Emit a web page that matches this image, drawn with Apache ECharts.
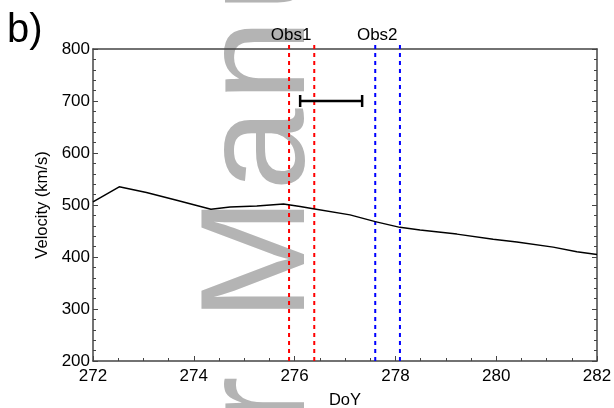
<!DOCTYPE html>
<html>
<head>
<meta charset="utf-8">
<script src="https://cdn.jsdelivr.net/npm/echarts@6/dist/echarts.min.js"></script>
<style>
  html, body { margin: 0; padding: 0; background: #ffffff; }
  #chart { width: 614px; height: 408px; }
</style>
</head>
<body>
<div id="chart"></div>
<script>
// Solar wind speed along the day of year
const dayOfYear = [272.0, 272.52, 273.06, 273.66, 274.34, 274.72, 275.25, 275.78, 276.11, 276.37,
                   277.1, 277.6, 278.09, 278.49, 279.22, 279.94, 280.41, 281.13, 281.6, 282.0];
const velocity  = [506, 535, 524, 509, 492, 496, 498, 502, 497, 493,
                   481, 468, 457, 452, 444, 434, 429, 419, 410, 405];

// Observation windows (start / end day)
const obs1Days = [275.89, 276.39];
const obs2Days = [277.60, 278.09];
const obsNames = ['Obs1', 'Obs2'];
const obsColors = ['#ff0000', '#0000ff'];

// Horizontal interval bar: [start day, end day, velocity level]
const spanBar = [276.11, 277.34, 700];

// Axis ranges and ticks
const xRange = [272, 282];
const xStep = 2;
const yRange = [200, 800];
const yStep = 100;
// dashed markers poke slightly above the frame
const obsTop = 812;

const FONT = '"Liberation Sans", Arial, sans-serif';
const AXIS_COLOR = '#444';

// Vertical "Author Manuscript" stamp, laid out letter by letter so the
// tracking can be opened up a little.
function stampElements() {
  const text = 'Author Manuscript';
  const font = '148px ' + FONT;
  const tracking = 7;
  const baseX = 263;      // text runs bottom-to-top along this column
  const anchorChar = 7;   // the "M"
  const anchorY = 321;
  const ctx = document.createElement('canvas').getContext('2d');
  ctx.font = font;
  const adv = Array.from(text).map(ch => ctx.measureText(ch).width + tracking);
  let startY = anchorY;
  for (let i = 0; i < anchorChar; i++) startY += adv[i];
  const els = [];
  let y = startY;
  Array.from(text).forEach((ch, i) => {
    if (ch !== ' ') {
      els.push({
        type: 'text', z: -10, x: baseX, y: y, rotation: Math.PI / 2,
        style: { text: ch, font: font, fill: '#b4b4b4', align: 'left', verticalAlign: 'middle' }
      });
    }
    y -= adv[i];
  });
  return els;
}

// one dashed vertical line per window boundary
const obsLineSeries = [];
[obs1Days, obs2Days].forEach((days, w) => {
  days.forEach(d => {
    obsLineSeries.push({
      type: 'line',
      data: [[d, yRange[0]], [d, obsTop]],
      showSymbol: false,
      clip: false,
      silent: true,
      z: 4,
      lineStyle: { color: obsColors[w], width: 2, type: [4, 4], cap: 'butt' }
    });
  });
});

// window names above the first boundary of each window
const obsLabelRows = [[obs1Days[0], 0], [obs2Days[0], 1]];

const chart = echarts.init(document.getElementById('chart'), null, { renderer: 'canvas' });

chart.setOption({
  animation: false,
  backgroundColor: '#ffffff',
  textStyle: { fontFamily: FONT },
  graphic: stampElements().concat([
    {
      type: 'text',
      left: 7,
      top: 11,
      style: { text: 'b)', font: '40px ' + FONT, fill: '#000' }
    }
  ]),
  grid: { left: 93, right: 17, top: 49, bottom: 47, containLabel: false, outerBoundsMode: 'none' },
  xAxis: [
    {
      type: 'value',
      min: xRange[0], max: xRange[1], interval: xStep,
      name: 'DoY', nameLocation: 'middle', nameGap: 31,
      nameTextStyle: { fontSize: 16.5, color: '#000', fontFamily: FONT },
      axisLine: { show: true, lineStyle: { color: AXIS_COLOR, width: 1.5 } },
      axisTick: { show: true, inside: true, length: 5, lineStyle: { color: AXIS_COLOR } },
      minorTick: { show: true, splitNumber: 4, length: 3, lineStyle: { color: AXIS_COLOR } },
      axisLabel: { fontSize: 17, color: '#000', margin: 7, fontFamily: FONT },
      splitLine: { show: false }
    },
    {
      type: 'value', position: 'top',
      min: xRange[0], max: xRange[1], interval: xStep,
      axisLine: { show: true, lineStyle: { color: AXIS_COLOR, width: 1.5 } },
      axisTick: { show: false }, axisLabel: { show: false }, splitLine: { show: false }
    }
  ],
  yAxis: [
    {
      type: 'value',
      min: yRange[0], max: yRange[1], interval: yStep,
      name: 'Velocity (km/s)', nameLocation: 'middle', nameGap: 34,
      nameTextStyle: { fontSize: 16.5, color: '#000', fontFamily: FONT },
      axisLine: { show: true, lineStyle: { color: AXIS_COLOR, width: 1.5 } },
      axisTick: { show: true, inside: true, length: 5, lineStyle: { color: AXIS_COLOR } },
      minorTick: { show: true, splitNumber: 5, length: 3, lineStyle: { color: AXIS_COLOR } },
      axisLabel: { fontSize: 17, color: '#000', margin: 3, fontFamily: FONT },
      splitLine: { show: false }
    },
    {
      type: 'value', position: 'right',
      min: yRange[0], max: yRange[1], interval: yStep,
      axisLine: { show: true, lineStyle: { color: AXIS_COLOR, width: 1.5 } },
      axisTick: { show: true, inside: true, length: 5, lineStyle: { color: AXIS_COLOR } },
      minorTick: { show: true, splitNumber: 5, length: 3, lineStyle: { color: AXIS_COLOR } },
      axisLabel: { show: false }, splitLine: { show: false }
    }
  ],
  series: obsLineSeries.concat([
    {
      type: 'custom',
      z: 4,
      clip: false,
      silent: true,
      data: obsLabelRows,
      encode: { x: 0 },
      renderItem: function (params, api) {
        const top = api.coord([api.value(0), obsTop]);
        return {
          type: 'text',
          x: top[0] + 2,
          y: top[1] + 1,
          style: {
            text: obsNames[api.value(1)],
            font: '17px ' + FONT,
            fill: '#000',
            align: 'center',
            verticalAlign: 'bottom'
          }
        };
      }
    },
    {
      type: 'line',
      data: dayOfYear.map((d, i) => [d, velocity[i]]),
      showSymbol: false,
      lineStyle: { color: '#000', width: 1.5 },
      z: 5
    },
    {
      // interval bar with end caps
      type: 'custom',
      z: 6,
      data: [spanBar],
      encode: { x: [0, 1], y: 2 },
      renderItem: function (params, api) {
        const a = api.coord([api.value(0), api.value(2)]);
        const b = api.coord([api.value(1), api.value(2)]);
        const cap = 6;
        const style = { stroke: '#000', lineWidth: 2.5 };
        return {
          type: 'group',
          children: [
            { type: 'line', shape: { x1: a[0], y1: a[1], x2: b[0], y2: b[1] }, style: style },
            { type: 'line', shape: { x1: a[0], y1: a[1] - cap, x2: a[0], y2: a[1] + cap }, style: style },
            { type: 'line', shape: { x1: b[0], y1: b[1] - cap, x2: b[0], y2: b[1] + cap }, style: style }
          ]
        };
      }
    }
  ])
});
</script>
</body>
</html>
